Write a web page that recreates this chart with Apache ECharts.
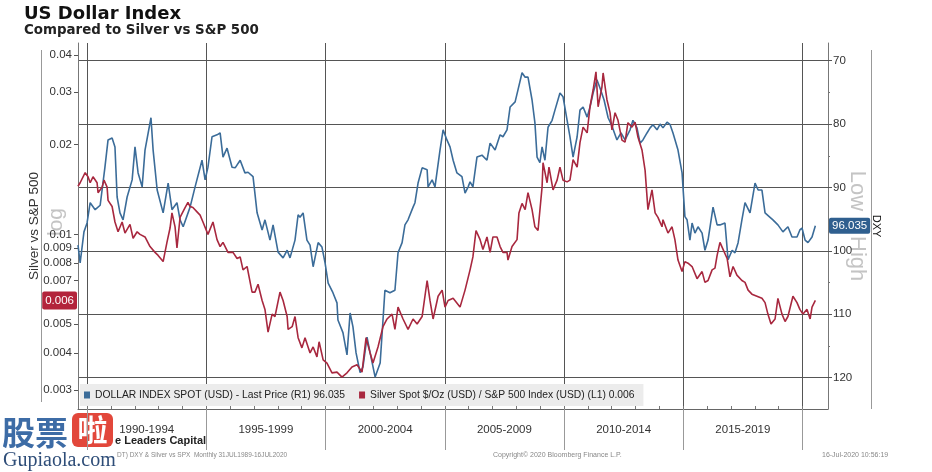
<!DOCTYPE html>
<html><head><meta charset="utf-8">
<script src="https://cdn.jsdelivr.net/npm/echarts@6/dist/echarts.min.js"></script>
<style>html,body{margin:0;padding:0;background:#fff}#c{width:932px;height:472px}</style>
</head><body><div id="c"></div>
<script>
// ---- data ----
const dxyDates = [
1989.62,1989.71,1989.87,1990.00,1990.13,1990.34,1990.55,1990.75,1990.88,1991.05,
1991.17,1991.26,1991.38,1991.51,1991.68,1991.89,1992.01,1992.14,1992.31,1992.43,
1992.68,1992.77,1992.94,1993.19,1993.40,1993.56,1993.77,1993.90,1994.03,1994.32,
1994.53,1994.82,1994.95,1995.07,1995.24,1995.45,1995.58,1995.70,1995.87,1996.08,
1996.21,1996.42,1996.62,1996.75,1996.96,1997.13,1997.34,1997.46,1997.67,1997.80,
1998.01,1998.22,1998.39,1998.51,1998.72,1998.85,1998.93,1999.06,1999.22,1999.35,
1999.48,1999.69,1999.85,1999.98,2000.11,2000.31,2000.48,2000.52,2000.73,2000.90,
2001.03,2001.15,2001.28,2001.45,2001.57,2001.74,2001.87,2002.08,2002.29,2002.41,
2002.49,2002.70,2002.91,2003.04,2003.21,2003.33,2003.46,2003.67,2003.75,2003.88,
2004.05,2004.26,2004.30,2004.47,2004.59,2004.80,2004.93,2005.09,2005.22,2005.35,
2005.51,2005.72,2005.85,2005.98,2006.06,2006.18,2006.35,2006.56,2006.77,2006.90,
2007.11,2007.32,2007.44,2007.61,2007.74,2007.95,2008.07,2008.24,2008.37,2008.49,
2008.66,2008.78,2008.87,2008.99,2009.08,2009.20,2009.33,2009.50,2009.62,2009.83,
2009.96,2010.13,2010.25,2010.38,2010.55,2010.67,2010.80,2010.97,2011.09,2011.22,
2011.38,2011.51,2011.68,2011.85,2012.01,2012.22,2012.39,2012.56,2012.77,2012.89,
2013.06,2013.19,2013.31,2013.48,2013.61,2013.73,2013.90,2014.03,2014.15,2014.32,
2014.45,2014.57,2014.78,2014.95,2015.07,2015.16,2015.28,2015.37,2015.49,2015.62,
2015.79,2015.91,2016.04,2016.25,2016.42,2016.54,2016.75,2016.88,2017.05,2017.17,
2017.30,2017.46,2017.59,2017.80,2018.01,2018.14,2018.30,2018.43,2018.64,2018.76,
2018.97,2019.18,2019.39,2019.56,2019.77,2019.89,2019.98,2020.11,2020.23,2020.40,
2020.54];
const dxyValues = [
99.1,101.9,97.0,95.6,92.4,93.5,92.8,86.8,82.5,82.2,
83.6,91.5,94.0,95.1,91.5,88.8,83.6,87.7,89.9,84.1,
79.0,84.1,90.4,94.0,89.3,93.5,92.4,95.1,96.2,93.1,
89.9,85.7,88.8,86.8,82.0,81.7,81.4,85.2,83.8,86.8,
86.9,85.7,87.7,87.6,88.3,94.0,96.7,95.1,98.3,95.9,
100.2,101.1,99.9,101.1,98.3,94.3,94.7,94.0,98.3,99.1,
102.5,98.7,99.4,101.9,105.1,106.6,108.2,110.9,112.9,116.4,
109.8,112.0,116.1,119.2,118.3,113.6,116.1,119.9,117.7,110.9,
106.2,106.6,106.2,100.3,98.7,95.9,95.1,93.1,92.4,89.3,
86.9,87.2,89.9,88.8,89.9,84.1,80.9,82.5,83.6,85.7,
87.7,88.3,90.9,89.9,89.1,89.9,85.2,84.9,85.7,83.0,
84.1,81.7,82.0,80.9,77.3,76.5,74.6,71.9,72.6,72.6,
76.2,79.8,85.2,86.1,83.6,85.7,80.5,79.4,77.8,75.1,
75.7,79.4,82.0,85.2,82.0,77.8,77.3,78.9,77.3,75.1,
73.0,74.3,76.2,79.0,80.3,82.5,81.4,82.5,80.9,79.4,
80.6,83.0,82.5,81.4,80.6,80.1,80.9,80.0,80.6,79.7,
80.1,81.4,84.1,87.7,94.6,95.1,98.3,95.6,97.2,96.2,
97.2,99.9,98.3,93.1,95.9,95.9,95.6,101.4,99.9,100.3,
98.7,95.1,92.4,94.0,89.3,90.4,90.4,94.0,94.7,95.1,
95.9,97.0,96.2,97.8,97.8,96.7,96.4,98.3,98.7,97.8,
96.035];
const ratioDates = [
1989.62,1989.71,1989.92,1990.04,1990.13,1990.25,1990.42,1990.46,1990.63,1990.71,
1990.84,1990.88,1991.05,1991.17,1991.30,1991.47,1991.59,1991.80,1991.93,1992.10,
1992.22,1992.43,1992.64,1992.85,1992.98,1993.19,1993.35,1993.48,1993.56,1993.69,
1993.77,1993.90,1994.11,1994.23,1994.32,1994.44,1994.61,1994.74,1994.86,1995.07,
1995.28,1995.45,1995.58,1995.70,1995.91,1996.12,1996.29,1996.42,1996.54,1996.71,
1996.92,1997.04,1997.17,1997.34,1997.46,1997.59,1997.76,1997.88,1998.09,1998.22,
1998.39,1998.43,1998.60,1998.72,1998.85,1999.01,1999.14,1999.35,1999.48,1999.64,
1999.73,1999.90,2000.06,2000.27,2000.48,2000.69,2000.90,2001.11,2001.32,2001.53,
2001.70,2001.87,2001.99,2002.20,2002.41,2002.58,2002.79,2002.91,2003.04,2003.25,
2003.46,2003.67,2003.84,2004.05,2004.26,2004.38,2004.51,2004.72,2004.89,2005.01,
2005.14,2005.35,2005.64,2005.85,2006.06,2006.18,2006.31,2006.48,2006.60,2006.77,
2006.90,2007.02,2007.19,2007.32,2007.44,2007.61,2007.65,2007.82,2008.03,2008.11,
2008.24,2008.37,2008.49,2008.66,2008.78,2008.91,2009.08,2009.12,2009.29,2009.37,
2009.54,2009.71,2009.83,2009.96,2010.13,2010.25,2010.38,2010.55,2010.67,2010.80,
2010.97,2011.09,2011.22,2011.34,2011.43,2011.59,2011.64,2011.80,2011.93,2012.01,
2012.14,2012.26,2012.43,2012.56,2012.68,2012.85,2012.98,2013.10,2013.27,2013.40,
2013.52,2013.69,2013.82,2013.94,2014.11,2014.15,2014.36,2014.53,2014.65,2014.78,
2014.95,2015.07,2015.20,2015.37,2015.58,2015.79,2015.91,2016.04,2016.21,2016.33,
2016.42,2016.54,2016.67,2016.84,2016.96,2017.09,2017.25,2017.46,2017.59,2017.72,
2017.88,2018.09,2018.30,2018.43,2018.55,2018.68,2018.85,2018.97,2019.14,2019.27,
2019.39,2019.60,2019.77,2019.89,2020.02,2020.19,2020.32,2020.40,2020.54];
const ratioValues = [
0.0145,0.0149,0.0161,0.0156,0.0149,0.0156,0.0149,0.0138,0.0144,0.0152,
0.0144,0.0130,0.0124,0.0110,0.0102,0.0110,0.0101,0.0108,0.0097,0.0102,
0.0100,0.0098,0.0091,0.0087,0.0085,0.0081,0.0094,0.0105,0.0118,0.0106,
0.0090,0.0114,0.0123,0.0128,0.0124,0.0123,0.0119,0.0116,0.0110,0.0100,
0.0110,0.0096,0.0091,0.0094,0.0087,0.0087,0.0083,0.0084,0.0076,0.0078,
0.0064,0.0064,0.0068,0.0060,0.0056,0.0047,0.0054,0.0053,0.0064,0.0060,
0.0053,0.0048,0.0049,0.0053,0.0045,0.00416,0.0045,0.0040,0.00419,0.00388,
0.00436,0.00379,0.00370,0.00343,0.00345,0.00332,0.00343,0.00359,0.00365,0.00345,
0.0045,0.0040,0.00370,0.00419,0.0049,0.0052,0.0054,0.0048,0.0057,0.0052,
0.0048,0.0052,0.0050,0.0053,0.0070,0.0060,0.0052,0.0062,0.0065,0.0057,
0.0060,0.0061,0.0057,0.0065,0.0076,0.0084,0.0103,0.0096,0.0089,0.0098,
0.0087,0.0098,0.0098,0.0091,0.0087,0.0087,0.0082,0.0091,0.0096,0.0118,
0.0127,0.0121,0.0138,0.0121,0.0106,0.0103,0.0144,0.0174,0.0149,0.0168,
0.0141,0.0152,0.0168,0.0152,0.0150,0.0152,0.0178,0.0168,0.0203,0.0229,
0.0219,0.0268,0.0305,0.0351,0.0268,0.0312,0.0348,0.0283,0.0256,0.0224,
0.0256,0.0242,0.0207,0.0204,0.0237,0.0229,0.0238,0.0212,0.0192,0.0164,
0.0121,0.0141,0.0118,0.0114,0.0106,0.0112,0.0101,0.0106,0.0096,0.0082,
0.0075,0.0081,0.0080,0.0078,0.0071,0.0075,0.0069,0.0070,0.0076,0.0077,
0.0085,0.0094,0.0089,0.0083,0.0072,0.0078,0.0073,0.0070,0.0069,0.0065,
0.0063,0.0062,0.0061,0.0059,0.0054,0.0050,0.0052,0.0061,0.0054,0.0051,
0.0053,0.0062,0.0059,0.0056,0.0054,0.0056,0.0052,0.0057,0.0060];

const lastDxy = 96.035;
const lastRatio = 0.006;
const periodBounds = [1990, 1995, 2000, 2005, 2010, 2015, 2020];
const periodCenters = [1992.5, 1997.5, 2002.5, 2007.5, 2012.5, 2017.5];
const periodLabels = ['1990-1994', '1995-1999', '2000-2004', '2005-2009', '2010-2014', '2015-2019'];
const yearTicks = [1990,1991,1992,1993,1994,1995,1996,1997,1998,1999,2000,2001,2002,2003,2004,2005,
  2006,2007,2008,2009,2010,2011,2012,2013,2014,2015,2016,2017,2018,2019,2020];
const leftTicks = [0.003, 0.004, 0.005, 0.007, 0.008, 0.009, 0.01, 0.02, 0.03, 0.04];
const leftTickLabels = ['0.003','0.004','0.005','0.007','0.008','0.009','0.01','0.02','0.03','0.04'];
const rightTicks = [70, 80, 90, 100, 110, 120];
const rightMinorTicks = [75, 85, 95, 105, 115];

const dxyName = 'DOLLAR INDEX SPOT (USD) - Last Price (R1) ' + lastDxy;
const ratioName = 'Silver Spot $/Oz (USD) / S&P 500 Index (USD) (L1) ' + lastRatio;

// ---- layout ----
const xMin = 1989.62, xMax = 2021.07;
const leftMin = 0.002594, leftMax = 0.04386;
const rightMin = 67.21, rightMax = 124.94;
const BLUE = '#3b6c99', RED = '#a8283f';
const SANS = 'Liberation Sans, Arial, sans-serif';

function nearestLabel(v, vals, labels) {
  let best = 0, bd = Infinity;
  vals.forEach((t, i) => { const d = Math.abs(Math.log(t) - Math.log(v)); if (d < bd) { bd = d; best = i; } });
  return labels[best];
}

const chart = echarts.init(document.getElementById('c'), null, { renderer: 'canvas' });
chart.setOption({
  animation: false,
  backgroundColor: '#fff',
  title: [
    { text: 'US Dollar Index', left: 24, top: 5, padding: 0,
      textStyle: { fontFamily: 'DejaVu Sans', fontWeight: 'bold', fontSize: 18, color: '#111' } },
    { text: 'Compared to Silver vs S&P 500', left: 24, top: 24, padding: 0,
      textStyle: { fontFamily: 'DejaVu Sans', fontWeight: 'bold', fontSize: 13.4, color: '#222' } }
  ],
  grid: { left: 78, right: 104, top: 43, bottom: 63, containLabel: false },
  legend: {
    left: 80, top: 384, orient: 'horizontal',
    backgroundColor: '#ececec', padding: [6, 9, 6, 4], itemGap: 14,
    icon: 'rect', itemWidth: 6, itemHeight: 7,
    textStyle: { fontFamily: SANS, fontSize: 10.3, color: '#222' },
    data: [dxyName, ratioName]
  },
  xAxis: [{
    type: 'value', min: xMin, max: xMax, position: 'bottom',
    axisLine: { show: true, lineStyle: { color: '#666', width: 1 } },
    axisTick: { show: true, customValues: periodBounds, length: 41, lineStyle: { color: '#999' } },
    axisLabel: { customValues: periodCenters, margin: 15, fontFamily: SANS, fontSize: 11.5, color: '#333',
      formatter: v => periodLabels[periodCenters.findIndex(c => Math.abs(c - v) < 0.01)] || '' },
    splitLine: { show: true, lineStyle: { color: '#555', width: 1 } }
  }, {
    type: 'value', min: xMin, max: xMax, position: 'bottom',
    axisLine: { show: false },
    axisTick: { show: true, inside: true, customValues: yearTicks, length: 3, lineStyle: { color: '#777' } },
    axisLabel: { show: false }, splitLine: { show: false }
  }],
  yAxis: [{
    type: 'log', logBase: 10, min: leftMin, max: leftMax, position: 'left',
    name: 'Silver vs S&P 500', nameLocation: 'middle', nameRotate: 90, nameGap: 37, nameMoveOverlap: false,
    nameTextStyle: { fontFamily: SANS, fontSize: 13.5, color: '#333' },
    axisLine: { show: true, lineStyle: { color: '#777' } },
    axisTick: { show: true, customValues: leftTicks, length: 4, lineStyle: { color: '#555' } },
    axisLabel: { customValues: leftTicks, margin: 6, fontFamily: SANS, fontSize: 11.5, color: '#333',
      formatter: v => nearestLabel(v, leftTicks, leftTickLabels) },
    splitLine: { show: false }, minorTick: { show: false }, minorSplitLine: { show: false },
    axisPointer: { show: true, type: 'line', value: lastRatio, status: 'show', triggerTooltip: false,
      lineStyle: { opacity: 0, width: 0 },
      label: { show: true, formatter: () => String(lastRatio), backgroundColor: '#b3243b', color: '#fff',
        fontFamily: SANS, fontSize: 11.5, padding: [3, 3, 3, 3], margin: 1, borderRadius: 2 } }
  }, {
    type: 'value', inverse: true, min: rightMin, max: rightMax, position: 'right',
    name: 'DXY', nameLocation: 'middle', nameRotate: -90, nameGap: 43, nameMoveOverlap: false,
    nameTextStyle: { fontFamily: SANS, fontSize: 11, color: '#111' },
    axisLine: { show: true, lineStyle: { color: '#777' } },
    axisTick: { show: true, customValues: rightTicks, length: 4, lineStyle: { color: '#555' } },
    axisLabel: { customValues: rightTicks, margin: 5, fontFamily: SANS, fontSize: 11.5, color: '#333' },
    splitLine: { show: true, lineStyle: { color: '#555', width: 1 } },
    axisPointer: { show: true, type: 'line', value: lastDxy, status: 'show', triggerTooltip: false,
      lineStyle: { opacity: 0, width: 0 },
      label: { show: true, formatter: () => String(lastDxy), backgroundColor: '#2f5f8f', color: '#fff',
        fontFamily: SANS, fontSize: 11.5, padding: [2, 3, 2, 3], margin: 1, borderRadius: 2 } }
  }, {
    type: 'value', inverse: true, min: rightMin, max: rightMax, position: 'right',
    axisLine: { show: false },
    axisTick: { show: true, customValues: rightMinorTicks, length: 2, lineStyle: { color: '#777' } },
    axisLabel: { show: false }, splitLine: { show: false }
  }],
  series: [{
    name: dxyName, type: 'line', xAxisIndex: 0, yAxisIndex: 1, showSymbol: false, symbol: 'none',
    lineStyle: { color: BLUE, width: 1.6 }, itemStyle: { color: BLUE },
    data: dxyDates.map((d, i) => [d, dxyValues[i]])
  }, {
    name: ratioName, type: 'line', xAxisIndex: 0, yAxisIndex: 0, showSymbol: false, symbol: 'none',
    lineStyle: { color: RED, width: 1.6 }, itemStyle: { color: RED },
    data: ratioDates.map((d, i) => [d, ratioValues[i]])
  }],
  graphic: [
    { type: 'line', shape: { x1: 41.5, y1: 50, x2: 41.5, y2: 402 }, style: { stroke: '#999', lineWidth: 1 } },
    { type: 'line', shape: { x1: 871.5, y1: 50, x2: 871.5, y2: 409 }, style: { stroke: '#999', lineWidth: 1 } },
    { type: 'text', x: 56, y: 222, rotation: Math.PI / 2,
      style: { text: 'log', font: '21px ' + SANS, fill: '#c4c4c4', align: 'center', verticalAlign: 'middle' } },
    { type: 'text', x: 857, y: 226, rotation: -Math.PI / 2,
      style: { text: 'Low = High', font: '22px ' + SANS, fill: '#c4c4c4', align: 'center', verticalAlign: 'middle' } },
    { type: 'text', x: 115, y: 441,
      style: { text: 'e Leaders Capital', font: 'bold 11px ' + SANS, fill: '#222', align: 'left', verticalAlign: 'middle' } },
    { type: 'text', x: 117, y: 455,
      style: { text: 'DT) DXY & Silver vs SPX  Monthly 31JUL1989-16JUL2020', font: '6.5px ' + SANS, fill: '#888', align: 'left', verticalAlign: 'middle' } },
    { type: 'text', x: 493, y: 455,
      style: { text: 'Copyright\u00a9 2020 Bloomberg Finance L.P.', font: '7px ' + SANS, fill: '#888', align: 'left', verticalAlign: 'middle' } },
    { type: 'text', x: 822, y: 455,
      style: { text: '16-Jul-2020 10:56:19', font: '7px ' + SANS, fill: '#888', align: 'left', verticalAlign: 'middle' } },
    { type: 'text', x: 2, y: 432,
      style: { text: '股票', font: 'bold 33px "Noto Sans CJK SC"', fill: '#3d6ca6', align: 'left', verticalAlign: 'middle' } },
    { type: 'rect', shape: { x: 72, y: 413, width: 41, height: 34, r: 6 }, style: { fill: '#e2473b' } },
    { type: 'text', x: 92.5, y: 430,
      style: { text: '啦', font: 'bold 30px "Noto Sans CJK SC"', fill: '#fff', align: 'center', verticalAlign: 'middle' } },
    { type: 'text', x: 3, y: 461,
      style: { text: 'Gupiaola.com', font: '20px "Liberation Serif", serif', fill: '#2e4d78', align: 'left', verticalAlign: 'middle' } }
  ]
});
</script>
</body></html>
